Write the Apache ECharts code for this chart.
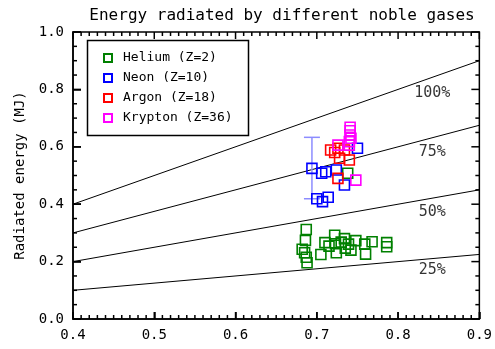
<!DOCTYPE html>
<html><head><meta charset="utf-8">
<script src="https://cdn.jsdelivr.net/npm/echarts@6/dist/echarts.min.js"></script>
<style>html,body{margin:0;padding:0;background:#fff}#c{width:495px;height:349px}</style>
</head><body><div id="c"></div>
<script>
const titleText = 'Energy radiated by different noble gases';
const yAxisName = 'Radiated energy (MJ)';
const seriesNames = ['Helium (Z=2)', 'Neon (Z=10)', 'Argon (Z=18)', 'Krypton (Z=36)'];
const seriesColors = ['#008000', '#0000ff', '#ff0000', '#ff00ff'];

const heliumData = [
  [0.687,0.312],[0.686,0.274],[0.682,0.243],[0.685,0.231],[0.688,0.196],[0.687,0.215],
  [0.705,0.225],[0.710,0.266],[0.722,0.292],[0.715,0.254],[0.723,0.262],[0.724,0.231],
  [0.734,0.280],[0.735,0.247],[0.730,0.268],[0.739,0.261],[0.742,0.240],[0.748,0.273],
  [0.760,0.226],[0.759,0.261],[0.768,0.269],[0.786,0.266],[0.786,0.252],[0.738,0.508]
];
const neonData = [
  [0.694,0.525],[0.706,0.508],[0.700,0.419],[0.707,0.409],[0.714,0.424],
  [0.711,0.513],[0.724,0.519],[0.734,0.467],[0.750,0.595]
];
const argonData = [
  [0.717,0.589],[0.726,0.595],[0.728,0.560],[0.740,0.554],[0.726,0.490],[0.734,0.589],[0.722,0.580]
];
const kryptonData = [
  [0.741,0.668],[0.741,0.656],[0.741,0.641],[0.742,0.630],[0.740,0.618],
  [0.726,0.606],[0.740,0.606],[0.748,0.484]
];
const errorBar = { x: [0.694], low: [0.419], high: [0.633] };

const refLines = {
  '100%': [[0.4,0.40],[0.9,0.90]],
  '75%':  [[0.4,0.30],[0.9,0.675]],
  '50%':  [[0.4,0.20],[0.9,0.45]],
  '25%':  [[0.4,0.10],[0.9,0.225]]
};
const refLabels = [['100%',0.842,0.787],['75%',0.842,0.582],['50%',0.842,0.373],['25%',0.842,0.171]];

const xTicks = { min: 0.4, max: 0.9, interval: 0.1, minorPerMajor: 10 };
const yTicks = { min: 0.0, max: 1.0, interval: 0.2, minorPerMajor: 4 };

const FONT = 'DejaVu Sans Mono';
const chart = echarts.init(document.getElementById('c'), null, {renderer:'canvas'});

// tick items: [xValue, yValue, length, direction]  (0 up, 1 down, 2 right, 3 left)
const tickItems = [];
(function () {
  const nx = Math.round((xTicks.max - xTicks.min) / xTicks.interval) * xTicks.minorPerMajor;
  for (let i = 0; i <= nx; i++) {
    const v = +(xTicks.min + i * xTicks.interval / xTicks.minorPerMajor).toFixed(4);
    const L = i % xTicks.minorPerMajor === 0 ? 7 : 4;
    tickItems.push([v, yTicks.min, L, 0]);
    tickItems.push([v, yTicks.max, L, 1]);
  }
  const ny = Math.round((yTicks.max - yTicks.min) / yTicks.interval) * yTicks.minorPerMajor;
  for (let i = 0; i <= ny; i++) {
    const v = +(yTicks.min + i * yTicks.interval / yTicks.minorPerMajor).toFixed(4);
    const L = i % yTicks.minorPerMajor === 0 ? 8 : 4;
    tickItems.push([xTicks.min, v, L, 2]);
    tickItems.push([xTicks.max, v, L, 3]);
  }
})();

const series = [];
series.push({
  type: 'custom', name: 'ticks', clip: false,
  data: tickItems,
  renderItem: function (params, api) {
    const p = api.coord([api.value(0), api.value(1)]);
    const L = api.value(2), d = api.value(3);
    let x2 = p[0], y2 = p[1];
    if (d === 0) y2 = p[1] - L;
    else if (d === 1) y2 = p[1] + L;
    else if (d === 2) x2 = p[0] + L;
    else x2 = p[0] - L;
    return {type: 'line', shape: {x1: p[0], y1: p[1], x2: x2, y2: y2}, style: {stroke: '#000', lineWidth: 1.5}};
  }
});
Object.keys(refLines).forEach(k => {
  series.push({
    type: 'line', name: 'ref' + k, data: refLines[k], symbol: 'none', silent: true,
    lineStyle: {color: '#000', width: 1}, z: 1
  });
});
series.push({
  type: 'scatter', name: 'reflabels', data: refLabels.map(r => [r[1], r[2], r[0]]),
  symbolSize: 0, silent: true,
  label: {show: true, position: 'inside', formatter: p => p.value[2], color: '#000', fontFamily: FONT, fontSize: 15},
  z: 2
});
series.push({
  type: 'custom', name: 'err', silent: true, z: 3,
  data: errorBar.x.map((x, i) => [x, errorBar.low[i], errorBar.high[i]]),
  renderItem: function (params, api) {
    const lo = api.coord([api.value(0), api.value(1)]);
    const hi = api.coord([api.value(0), api.value(2)]);
    const w = 8;
    return {type: 'group', children: [
      {type: 'line', shape: {x1: lo[0], y1: lo[1], x2: hi[0], y2: hi[1]}, style: {stroke: '#8c8cff', lineWidth: 1.5}},
      {type: 'line', shape: {x1: lo[0]-w, y1: lo[1], x2: lo[0]+w, y2: lo[1]}, style: {stroke: '#8c8cff', lineWidth: 1.5}},
      {type: 'line', shape: {x1: hi[0]-w, y1: hi[1], x2: hi[0]+w, y2: hi[1]}, style: {stroke: '#8c8cff', lineWidth: 1.5}}
    ]};
  }
});
[heliumData, neonData, argonData, kryptonData].forEach((d, i) => {
  series.push({
    type: 'scatter', name: seriesNames[i], data: d, symbol: 'rect', symbolSize: 10,
    itemStyle: {color: 'rgba(0,0,0,0)', borderColor: seriesColors[i], borderWidth: 1.6, opacity: 1},
    z: 4 + i
  });
});

chart.setOption({
  animation: false,
  title: {
    text: titleText, left: 277, top: 3, textAlign: 'center',
    textStyle: {fontFamily: FONT, fontSize: 16, fontWeight: 'normal', color: '#000'}
  },
  grid: {left: 73, right: 12, top: 32, bottom: 30, show: true, borderColor: '#000', borderWidth: 1.5, backgroundColor: 'rgba(0,0,0,0)'},
  legend: {
    orient: 'vertical', left: 98, top: 46, itemGap: 6, itemWidth: 8, itemHeight: 8,
    data: seriesNames, selectedMode: false, icon: 'rect',
    textStyle: {fontFamily: FONT, fontSize: 13, color: '#000', lineHeight: 14, padding: [0,0,0,6]}
  },
  graphic: [{
    type: 'rect', left: 85, top: 38, z: 100, silent: true,
    shape: {width: 161, height: 95},
    style: {fill: 'none', stroke: '#000', lineWidth: 1.5}
  }],
  xAxis: {
    type: 'value', min: xTicks.min, max: xTicks.max, interval: xTicks.interval,
    axisLine: {show: true, onZero: false, lineStyle: {color: '#000', width: 1.5}},
    axisTick: {show: true, inside: true, length: 7, lineStyle: {color: '#000', width: 1.5}},
    splitLine: {show: false},
    axisLabel: {color: '#000', fontFamily: FONT, fontSize: 14, margin: 9, formatter: v => v.toFixed(1)}
  },
  yAxis: {
    type: 'value', min: yTicks.min, max: yTicks.max, interval: yTicks.interval,
    axisLine: {show: true, onZero: false, lineStyle: {color: '#000', width: 1.5}},
    axisTick: {show: true, inside: true, length: 8, lineStyle: {color: '#000', width: 1.5}},
    splitLine: {show: false},
    axisLabel: {color: '#000', fontFamily: FONT, fontSize: 14, margin: 9, formatter: v => v.toFixed(1)},
    name: yAxisName, nameLocation: 'middle', nameGap: 45, nameRotate: 90,
    nameTextStyle: {fontFamily: FONT, fontSize: 14, color: '#000'}
  },
  series: series
});
</script></body></html>
